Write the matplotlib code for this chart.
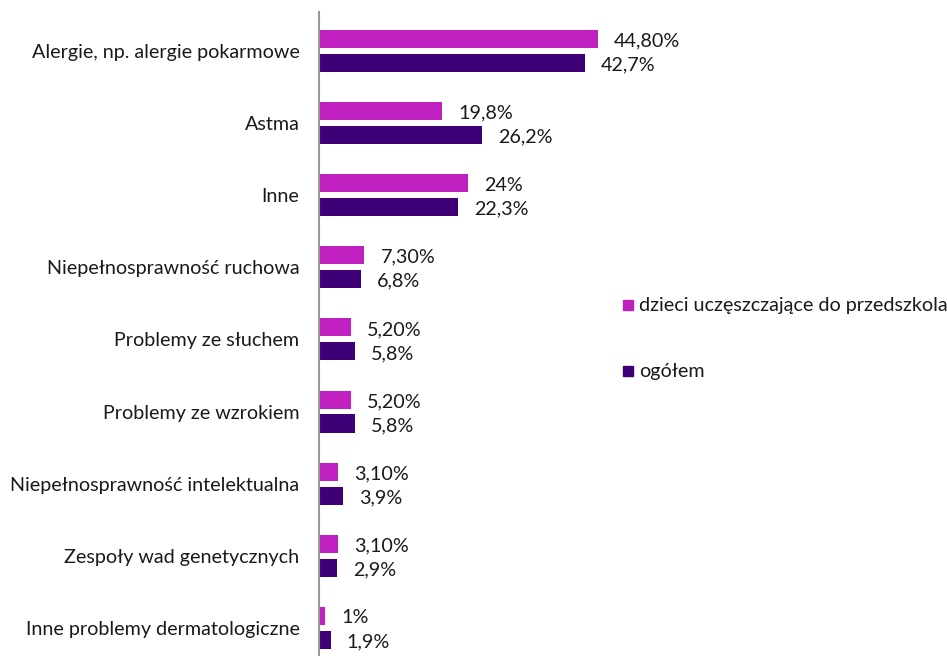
import matplotlib
matplotlib.use("Agg")
import matplotlib.pyplot as plt
import numpy as np

plt.rcParams['font.family'] = ['Lato', 'DejaVu Sans']

categories = [
    "Alergie, np. alergie pokarmowe",
    "Astma",
    "Inne",
    "Niepełnosprawność ruchowa",
    "Problemy ze słuchem",
    "Problemy ze wzrokiem",
    "Niepełnosprawność intelektualna",
    "Zespoły wad genetycznych",
    "Inne problemy dermatologiczne",
]
preschool = [44.8, 19.8, 24.0, 7.3, 5.2, 5.2, 3.1, 3.1, 1.0]
preschool_labels = ["44,80%", "19,8%", "24%", "7,30%", "5,20%", "5,20%", "3,10%", "3,10%", "1%"]
overall = [42.7, 26.2, 22.3, 6.8, 5.8, 5.8, 3.9, 2.9, 1.9]
overall_labels = ["42,7%", "26,2%", "22,3%", "6,8%", "5,8%", "5,8%", "3,9%", "2,9%", "1,9%"]

series_names = ["dzieci uczęszczające do przedszkola", "ogółem"]
colors = ["#C020C0", "#3F0077"]

FS = 14.2
TXT = "#1a1a1a"

W, H = 947, 656
fig = plt.figure(figsize=(W / 100, H / 100), dpi=100)
ax_left, ax_right = 319, 630
ax_top, ax_bottom = 12, 656
ax = fig.add_axes([ax_left / W, 1 - ax_bottom / H, (ax_right - ax_left) / W, (ax_bottom - ax_top) / H])

y = np.arange(len(categories))
h = 0.25
off = 0.166
ax.barh(y - off, preschool, height=h, color=colors[0], label=series_names[0])
ax.barh(y + off, overall, height=h, color=colors[1], label=series_names[1])

for yi, v, t in zip(y, preschool, preschool_labels):
    ax.annotate(t, (v, yi - off), xytext=(16, -2), textcoords="offset pixels",
                ha="left", va="center", fontsize=FS, color=TXT)
for yi, v, t in zip(y, overall, overall_labels):
    ax.annotate(t, (v, yi + off), xytext=(16, -2), textcoords="offset pixels",
                ha="left", va="center", fontsize=FS, color=TXT)

ax.set_xlim(0, 50)
ax.set_ylim(8.39, -0.54)
ax.set_yticks(y)
ax.set_yticklabels(categories, fontsize=FS, color=TXT)
ax.tick_params(axis="y", length=0, pad=14)
ax.set_xticks([])
for s in ["top", "right", "bottom"]:
    ax.spines[s].set_visible(False)
ax.spines["left"].set_color("#999999")
ax.spines["left"].set_linewidth(1.5)

# legend placed to the right of the plot
for name, col, ly in zip(series_names, colors, [305, 371]):
    fig.patches.append(plt.Rectangle((623 / W, 1 - (ly + 5) / H), 10 / W, 10 / H,
                                     transform=fig.transFigure, color=col))
    fig.text(639 / W, 1 - ly / H, name, fontsize=FS, va="center", ha="left", color=TXT)

fig.savefig("out.png", dpi=100)
